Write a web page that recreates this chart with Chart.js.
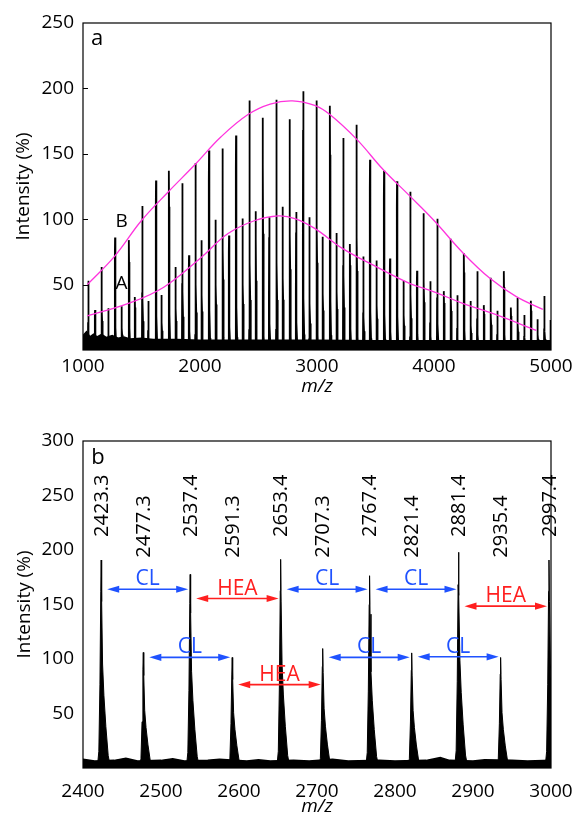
<!DOCTYPE html>
<html>
<head>
<meta charset="utf-8">
<title>MALDI-TOF spectrum</title>
<script src="https://cdn.jsdelivr.net/npm/chart.js@4.4.1/dist/chart.umd.min.js"></script>
<style>
  html, body { margin: 0; padding: 0; background: #fff; }
  #page { position: relative; width: 573px; height: 813px; overflow: hidden; }
  .panel { position: absolute; left: 0; width: 573px; }
  #panel-a { top: 0; height: 400px; }
  #panel-b { top: 405px; height: 408px; }
</style>
</head>
<body>
<div id="page">
  <div class="panel" id="panel-a"><canvas id="survey-chart" width="573" height="400"></canvas></div>
  <div class="panel" id="panel-b"><canvas id="detail-chart" width="573" height="408"></canvas></div>
</div>
<script>
// Full scan (m/z 1000-5000): apex m/z and intensity of every oligomer peak
const surveyMz = [
    1045, 1103, 1160, 1217, 1274, 1331, 1393, 1444, 1507, 1558,
    1624, 1672, 1735, 1792, 1849, 1906, 1962, 2014, 2077, 2134,
    2194, 2248, 2308, 2365, 2423.3, 2477.3, 2537.4, 2591.3, 2653.4, 2707.3,
    2767.4, 2821.4, 2881.4, 2935.4, 2997.4, 3049, 3111, 3168, 3225, 3282,
    3339, 3396, 3453, 3510, 3573, 3624, 3684, 3741, 3798, 3855,
    3912, 3968, 4028, 4085, 4143, 4199, 4256, 4314, 4370, 4427,
    4485, 4541, 4598, 4658, 4715, 4772, 4829, 4886, 4943, 4997
];
const surveyIntensity = [
    53, 30.5, 63.5, 32, 86, 33.5, 84, 40.5, 110, 37.5,
    129.5, 42, 137, 63.5, 127.5, 72.5, 143, 84, 152.5, 99.5,
    154, 87.5, 164, 100.5, 190.8, 106, 177.6, 101.4, 191.4, 109.6,
    176.4, 105.6, 197.9, 101.4, 190.8, 86.5, 186.7, 89.5, 162, 81,
    172.3, 71.5, 145.5, 68.5, 137, 70, 129, 53, 121, 60.5,
    104.5, 52.5, 100.4, 45, 85, 41.8, 74, 37.4, 60.3, 34.3,
    55.3, 30, 60.3, 32.4, 39.7, 26.7, 37.6, 23.6, 41.3, 23
];

// Fitted envelopes of series B (upper) and series A (lower)
const envelopeBMz = [1037, 1273, 1500, 1730, 1960, 2180, 2410, 2600, 2790, 2980, 3110, 3340, 3565, 3790, 4000, 4250, 4475, 4700, 4930];
const envelopeB = [50, 72, 99, 121, 142, 163, 180, 188, 190.5, 187, 180, 161, 138, 118, 99, 74, 55, 41, 31];
const envelopeAMz = [1037, 1400, 1690, 2000, 2240, 2470, 2670, 2810, 2980, 3220, 3510, 3790, 4000, 4250, 4530, 4875];
const envelopeA = [26, 36, 48, 70, 89, 99, 102.5, 100.5, 93, 77.5, 63.5, 51, 44.5, 35.5, 27, 15];

// Baseline noise level of the full scan
const surveyNoiseMz = [1000, 1030, 1060, 1090, 1120, 1160, 1200, 1250, 1300, 1350, 1400, 1500, 1600, 1800, 2000, 2500, 3000, 3500, 4000, 4500, 5000];
const surveyNoise = [11, 14, 10, 12, 10, 12, 9.5, 11, 9, 10, 8.5, 9, 8, 8, 7.5, 7.5, 7.5, 7, 7, 7, 7];

// Expanded region m/z 2400-3000
const detailMz = [2423.3, 2477.3, 2537.4, 2591.3, 2653.4, 2707.3, 2767.4, 2821.4, 2881.4, 2935.4, 2997.4];
const detailIntensity = [190.8, 106, 177.6, 101.4, 191.4, 109.6, 176.4, 105.6, 197.9, 101.4, 190.8];
const detailNoiseMz = [2400, 2415, 2440, 2455, 2470, 2500, 2515, 2530, 2560, 2575, 2610, 2625, 2640, 2670, 2690, 2720, 2740, 2780, 2800, 2840, 2858, 2870, 2900, 2915, 2950, 2970, 3000];
const detailNoise = [8, 6.5, 7, 9, 6.5, 7, 8.5, 6.5, 7, 8, 6.5, 7.5, 6.5, 7, 6.5, 8, 6.5, 7, 6.5, 7, 9.5, 7, 6.5, 7.5, 7, 6.5, 7];

// Mass spacing between neighbouring peaks: caprolactone (CL) and HEA units
const spacingFrom = [2423.3, 2537.4, 2653.4, 2767.4, 2881.4, 2477.3, 2591.3, 2707.3, 2821.4];
const spacingTo = [2537.4, 2653.4, 2767.4, 2881.4, 2997.4, 2591.3, 2707.3, 2821.4, 2935.4];
const spacingUnit = ['CL', 'HEA', 'CL', 'CL', 'HEA', 'CL', 'HEA', 'CL', 'CL'];
const spacingLevel = [164, 155.5, 164, 164, 148.5, 101.5, 76.5, 101.5, 102];

const FONT = "'Open Sans', 'Noto Sans', sans-serif";
const TEXT_SIZE = 19;
const UNIT_COLORS = { CL: '#1f52ff', HEA: '#ff1f1f' };
const ENVELOPE_COLOR = '#ff33dd';

// shape of one peak: offset in m/z from the apex, fraction of apex height
const PEAK_PROFILE = [
    [-5, 0], [-3, 0.08], [-1.6, 0.4], [-0.5, 0.85], [0, 1], [0.6, 0.8],
    [1.8, 0.5], [3.5, 0.35], [6, 0.2], [9, 0.06], [12, 0]
];

Chart.defaults.font.family = FONT;
Chart.defaults.color = '#000';

function spectrumPoints(mzList, intensityList) {
    const points = [];
    mzList.forEach((mz, i) => {
        PEAK_PROFILE.forEach(([dx, f]) => {
            points.push({ x: mz + dx, y: intensityList[i] * f });
        });
    });
    return points;
}

function pairs(xs, ys) {
    return xs.map((x, i) => ({ x: x, y: ys[i] }));
}

function plainNumber(value) {
    return value === 0 ? '' : String(value);
}

// Fixed axis boxes so both plot areas line up
function yAxis(max, titlePad) {
    return {
        type: 'linear',
        min: 0,
        max: max,
        grid: { display: false, drawTicks: false },
        border: { display: false },
        ticks: { stepSize: 50, padding: 9, font: { size: TEXT_SIZE }, callback: plainNumber },
        title: { display: true, text: 'Intensity (%)', font: { size: TEXT_SIZE }, padding: { top: titlePad } },
        afterFit(scale) {
            scale.width = 83;
            scale.paddingTop = 0;
            scale.paddingBottom = 0;
        }
    };
}

function xAxis(min, max, step, height, tickPad, titlePad) {
    return {
        type: 'linear',
        min: min,
        max: max,
        grid: { display: false, drawTicks: false },
        border: { display: false },
        ticks: { stepSize: step, padding: tickPad, font: { size: TEXT_SIZE }, maxRotation: 0, autoSkip: false, callback: v => String(v) },
        title: {
            display: true,
            text: 'm/z',
            font: { size: TEXT_SIZE, style: 'italic', lineHeight: 1 },
            padding: { top: 0, bottom: titlePad }
        },
        afterFit(scale) {
            scale.height = height;
            scale.paddingLeft = 0;
            scale.paddingRight = 0;
        }
    };
}

const framePlugin = {
    id: 'frame',
    afterDatasetsDraw(chart) {
        const { ctx, chartArea: { left, top, right, bottom } } = chart;
        ctx.save();
        ctx.strokeStyle = '#000';
        ctx.lineWidth = 1.2;
        ctx.strokeRect(left, top, right - left, bottom - top);
        ctx.restore();
    }
};

const surveyNotes = {
    id: 'surveyNotes',
    afterDatasetsDraw(chart) {
        const { ctx, chartArea, scales: { x, y } } = chart;
        ctx.save();
        // short inward ticks on the intensity axis
        ctx.strokeStyle = '#000';
        ctx.lineWidth = 1;
        ctx.beginPath();
        y.ticks.forEach(t => {
            if (t.value <= 0 || t.value >= y.max) return;
            const py = Math.round(y.getPixelForValue(t.value)) + 0.5;
            ctx.moveTo(chartArea.left, py);
            ctx.lineTo(chartArea.left + 5, py);
        });
        ctx.stroke();

        ctx.fillStyle = '#000';
        ctx.textAlign = 'center';
        ctx.textBaseline = 'middle';
        ctx.font = '22px ' + FONT;
        ctx.fillText('a', chartArea.left + 14, chartArea.top + 16);
        ctx.font = TEXT_SIZE + 'px ' + FONT;
        ctx.fillText('B', x.getPixelForValue(1330), y.getPixelForValue(98));
        ctx.fillText('A', x.getPixelForValue(1330), y.getPixelForValue(50.5));
        ctx.restore();
    }
};

function drawDoubleArrow(ctx, x1, x2, py, color) {
    const head = 12;
    const half = 3.6;
    ctx.strokeStyle = color;
    ctx.fillStyle = color;
    ctx.lineWidth = 1.6;
    ctx.beginPath();
    ctx.moveTo(x1 + head - 2, py);
    ctx.lineTo(x2 - head + 2, py);
    ctx.stroke();
    ctx.beginPath();
    ctx.moveTo(x1, py);
    ctx.lineTo(x1 + head, py - half);
    ctx.lineTo(x1 + head, py + half);
    ctx.closePath();
    ctx.fill();
    ctx.beginPath();
    ctx.moveTo(x2, py);
    ctx.lineTo(x2 - head, py - half);
    ctx.lineTo(x2 - head, py + half);
    ctx.closePath();
    ctx.fill();
}

const detailNotes = {
    id: 'detailNotes',
    afterDatasetsDraw(chart) {
        const { ctx, chartArea, scales: { x, y } } = chart;
        ctx.save();
        ctx.fillStyle = '#000';
        ctx.textAlign = 'center';
        ctx.textBaseline = 'middle';
        ctx.font = '22px ' + FONT;
        ctx.fillText('b', chartArea.left + 15, chartArea.top + 17);

        // peak m/z labels, written upward above each peak
        ctx.font = '20px ' + FONT;
        ctx.textAlign = 'left';
        detailMz.forEach((mz, i) => {
            const level = detailIntensity[i] > 150 ? 212 : 193;
            ctx.save();
            ctx.translate(x.getPixelForValue(mz) + 1, y.getPixelForValue(level));
            ctx.rotate(-Math.PI / 2);
            ctx.fillText(mz.toFixed(1), 0, 0);
            ctx.restore();
        });

        // CL / HEA spacing arrows
        ctx.font = '21px ' + FONT;
        ctx.textAlign = 'center';
        ctx.textBaseline = 'alphabetic';
        spacingFrom.forEach((from, i) => {
            const color = UNIT_COLORS[spacingUnit[i]];
            const x1 = x.getPixelForValue(from) + 6;
            const x2 = x.getPixelForValue(spacingTo[i]) - 2;
            const py = y.getPixelForValue(spacingLevel[i]);
            drawDoubleArrow(ctx, x1, x2, py, color);
            ctx.fillStyle = color;
            ctx.fillText(spacingUnit[i], (x1 + x2) / 2, py - 4);
        });
        ctx.restore();
    }
};

new Chart(document.getElementById('survey-chart'), {
    type: 'line',
    data: {
        datasets: [
            {
                label: 'Envelope B',
                data: pairs(envelopeBMz, envelopeB),
                borderColor: ENVELOPE_COLOR,
                borderWidth: 1.3,
                pointRadius: 0,
                tension: 0.4,
                fill: false
            },
            {
                label: 'Envelope A',
                data: pairs(envelopeAMz, envelopeA),
                borderColor: ENVELOPE_COLOR,
                borderWidth: 1.3,
                pointRadius: 0,
                tension: 0.4,
                fill: false
            },
            {
                label: 'Peaks',
                data: spectrumPoints(surveyMz, surveyIntensity),
                borderColor: '#000',
                backgroundColor: '#000',
                borderWidth: 1.8,
                pointRadius: 0,
                tension: 0,
                fill: 'origin'
            },
            {
                label: 'Noise',
                data: pairs(surveyNoiseMz, surveyNoise),
                borderColor: '#000',
                backgroundColor: '#000',
                borderWidth: 1.5,
                pointRadius: 0,
                tension: 0,
                fill: 'origin'
            }
        ]
    },
    options: {
        responsive: false,
        animation: false,
        events: [],
        layout: { padding: { top: 23, right: 22, left: 0, bottom: 0 } },
        plugins: { legend: { display: false }, tooltip: { enabled: false } },
        scales: {
            x: xAxis(1000, 5000, 1000, 50, 5, 4),
            y: yAxis(250, 12)
        }
    },
    plugins: [framePlugin, surveyNotes]
});

new Chart(document.getElementById('detail-chart'), {
    type: 'line',
    data: {
        datasets: [
            {
                label: 'Peaks',
                data: spectrumPoints(detailMz, detailIntensity),
                borderColor: '#000',
                backgroundColor: '#000',
                borderWidth: 1,
                pointRadius: 0,
                tension: 0,
                fill: 'origin'
            },
            {
                label: 'Noise',
                data: pairs(detailNoiseMz, detailNoise),
                borderColor: '#000',
                backgroundColor: '#000',
                borderWidth: 1.5,
                pointRadius: 0,
                tension: 0,
                fill: 'origin'
            }
        ]
    },
    options: {
        responsive: false,
        animation: false,
        events: [],
        layout: { padding: { top: 36, right: 22, left: 0, bottom: 0 } },
        plugins: { legend: { display: false }, tooltip: { enabled: false } },
        scales: {
            x: xAxis(2400, 3000, 100, 45, 12, -3),
            y: yAxis(300, 13)
        }
    },
    plugins: [framePlugin, detailNotes]
});
</script>
</body>
</html>
